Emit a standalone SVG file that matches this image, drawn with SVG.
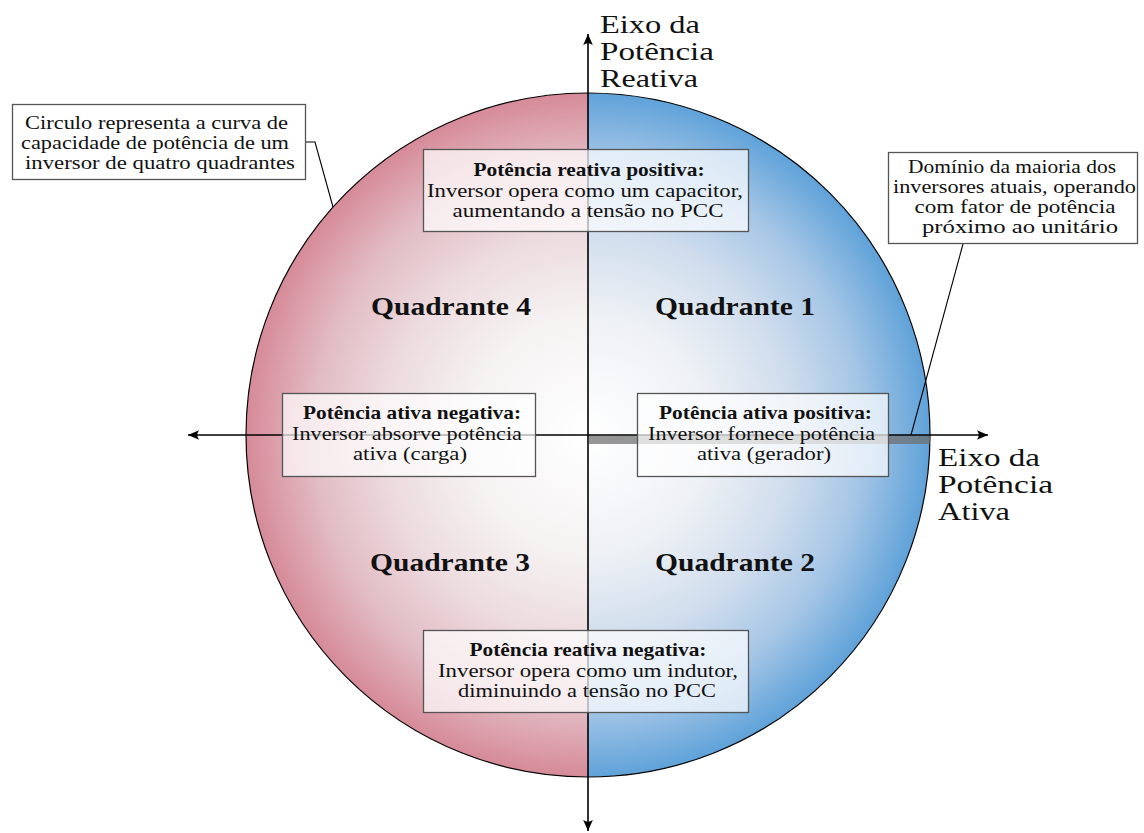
<svg xmlns="http://www.w3.org/2000/svg" width="1144" height="833" viewBox="0 0 1144 833">
  <style>
    text { font-family: "Liberation Serif", "DejaVu Serif", serif; fill: #111; }
    .t { font-size: 19px; text-anchor: middle; }
    .b { font-size: 19px; font-weight: bold; text-anchor: middle; }
    .q { font-size: 25px; font-weight: bold; text-anchor: middle; }
    .ax { font-size: 26px; }
    .box { fill: #ffffff; fill-opacity: 0.7; stroke: #555; stroke-width: 1.3; }
    .note { fill: #ffffff; stroke: #555; stroke-width: 1.3; }
    .axis { stroke: #000; stroke-width: 1.6; fill: none; }
    .lead { stroke: #000; stroke-width: 1.1; fill: none; }
  </style>
  <defs>
    <radialGradient id="gPink" gradientUnits="userSpaceOnUse" cx="588" cy="435" r="342">
      <stop offset="0" stop-color="#ffffff"/>
      <stop offset="0.35" stop-color="#f5f2f2"/>
      <stop offset="0.6" stop-color="#ecdade"/>
      <stop offset="0.8" stop-color="#e2bcc4"/>
      <stop offset="1" stop-color="#d68a98"/>
    </radialGradient>
    <radialGradient id="gBlue" gradientUnits="userSpaceOnUse" cx="588" cy="435" r="342">
      <stop offset="0" stop-color="#ffffff"/>
      <stop offset="0.35" stop-color="#eef1f5"/>
      <stop offset="0.6" stop-color="#d0dded"/>
      <stop offset="0.8" stop-color="#a6c6e6"/>
      <stop offset="1" stop-color="#5fa2d9"/>
    </radialGradient>
    <marker id="tip" viewBox="-12 -6 12 12" refX="0" refY="0" markerWidth="12" markerHeight="12" markerUnits="userSpaceOnUse" orient="auto-start-reverse">
      <path d="M0,0 L-11,-4.8 Q-7.5,0 -11,4.8 Z" fill="#000"/>
    </marker>
  </defs>

  <!-- capability circle, two shaded halves -->
  <g id="circle">
    <path d="M588,93 A342,342 0 0 0 588,777 Z" fill="url(#gPink)"/>
    <path d="M588,93 A342,342 0 0 1 588,777 Z" fill="url(#gBlue)"/>
    <circle cx="588" cy="435" r="342" fill="none" stroke="#000" stroke-width="1.2"/>
  </g>

  <!-- unity power factor band on the positive active axis -->
  <g id="pf-band">
    <rect x="589" y="435.5" width="341" height="8.5" fill="#6e6e6e" fill-opacity="0.72"/>
  </g>

  <!-- axes and leader lines -->
  <g id="connectors">
    <line class="axis" x1="188" y1="435" x2="988" y2="435" marker-start="url(#tip)" marker-end="url(#tip)"/>
    <line class="axis" x1="588" y1="34" x2="588" y2="831" marker-start="url(#tip)" marker-end="url(#tip)"/>
    <polyline class="lead" points="306,142 315,142 333,207"/>
    <line class="lead" x1="963" y1="244" x2="911" y2="435"/>
  </g>

  <!-- axis titles -->
  <g id="axis-reactive">
    <text class="ax" x="600" y="33" textLength="100" lengthAdjust="spacingAndGlyphs">Eixo da</text>
    <text class="ax" x="600" y="60" textLength="114" lengthAdjust="spacingAndGlyphs">Potência</text>
    <text class="ax" x="600" y="87" textLength="98" lengthAdjust="spacingAndGlyphs">Reativa</text>
  </g>
  <g id="axis-active">
    <text class="ax" x="938" y="466" textLength="102" lengthAdjust="spacingAndGlyphs">Eixo da</text>
    <text class="ax" x="938" y="493" textLength="115" lengthAdjust="spacingAndGlyphs">Potência</text>
    <text class="ax" x="938" y="520" textLength="72" lengthAdjust="spacingAndGlyphs">Ativa</text>
  </g>

  <!-- quadrant names -->
  <g id="q1"><text class="q" x="735" y="315" textLength="160" lengthAdjust="spacingAndGlyphs">Quadrante 1</text></g>
  <g id="q2"><text class="q" x="735" y="571" textLength="160" lengthAdjust="spacingAndGlyphs">Quadrante 2</text></g>
  <g id="q3"><text class="q" x="450" y="571" textLength="160" lengthAdjust="spacingAndGlyphs">Quadrante 3</text></g>
  <g id="q4"><text class="q" x="451" y="315" textLength="160" lengthAdjust="spacingAndGlyphs">Quadrante 4</text></g>

  <!-- half-plane descriptions -->
  <g id="reactive-positive">
    <rect class="box" x="423.5" y="149.5" width="325" height="82"/>
    <text class="b" x="589" y="176" textLength="231" lengthAdjust="spacingAndGlyphs">Potência reativa positiva:</text>
    <text class="t" x="585" y="196.5" textLength="316" lengthAdjust="spacingAndGlyphs">Inversor opera como um capacitor,</text>
    <text class="t" x="588" y="217" textLength="271" lengthAdjust="spacingAndGlyphs">aumentando a tensão no PCC</text>
  </g>
  <g id="reactive-negative">
    <rect class="box" x="423.5" y="630.5" width="325" height="82"/>
    <text class="b" x="588" y="656" textLength="237" lengthAdjust="spacingAndGlyphs">Potência reativa negativa:</text>
    <text class="t" x="588" y="677" textLength="300" lengthAdjust="spacingAndGlyphs">Inversor opera como um indutor,</text>
    <text class="t" x="587" y="697" textLength="258" lengthAdjust="spacingAndGlyphs">diminuindo a tensão no PCC</text>
  </g>
  <g id="active-negative">
    <rect class="box" x="282.5" y="393.5" width="253" height="83"/>
    <text class="b" x="412" y="419" textLength="218" lengthAdjust="spacingAndGlyphs">Potência ativa negativa:</text>
    <text class="t" x="407" y="440" textLength="230" lengthAdjust="spacingAndGlyphs">Inversor absorve potência</text>
    <text class="t" x="410" y="460" textLength="114" lengthAdjust="spacingAndGlyphs">ativa (carga)</text>
  </g>
  <g id="active-positive">
    <rect class="box" x="637.5" y="393.5" width="251" height="83"/>
    <text class="b" x="765.5" y="419" textLength="213" lengthAdjust="spacingAndGlyphs">Potência ativa positiva:</text>
    <text class="t" x="761.5" y="440" textLength="227" lengthAdjust="spacingAndGlyphs">Inversor fornece potência</text>
    <text class="t" x="764" y="460" textLength="134" lengthAdjust="spacingAndGlyphs">ativa (gerador)</text>
  </g>

  <!-- annotations -->
  <g id="note-circle">
    <rect class="note" x="12.5" y="104.5" width="293" height="75"/>
    <text class="t" x="156.5" y="129" textLength="263" lengthAdjust="spacingAndGlyphs">Circulo representa a curva de</text>
    <text class="t" x="155" y="149" textLength="268" lengthAdjust="spacingAndGlyphs">capacidade de potência de um</text>
    <text class="t" x="160" y="168.5" textLength="270" lengthAdjust="spacingAndGlyphs">inversor de quatro quadrantes</text>
  </g>
  <g id="note-pf">
    <rect class="note" x="888.5" y="152.5" width="249" height="91"/>
    <text class="t" x="1012" y="173" textLength="208" lengthAdjust="spacingAndGlyphs">Domínio da maioria dos</text>
    <text class="t" x="1014.5" y="193" textLength="243" lengthAdjust="spacingAndGlyphs">inversores atuais, operando</text>
    <text class="t" x="1015" y="213" textLength="201" lengthAdjust="spacingAndGlyphs">com fator de potência</text>
    <text class="t" x="1020" y="233" textLength="196" lengthAdjust="spacingAndGlyphs">próximo ao unitário</text>
  </g>
</svg>
